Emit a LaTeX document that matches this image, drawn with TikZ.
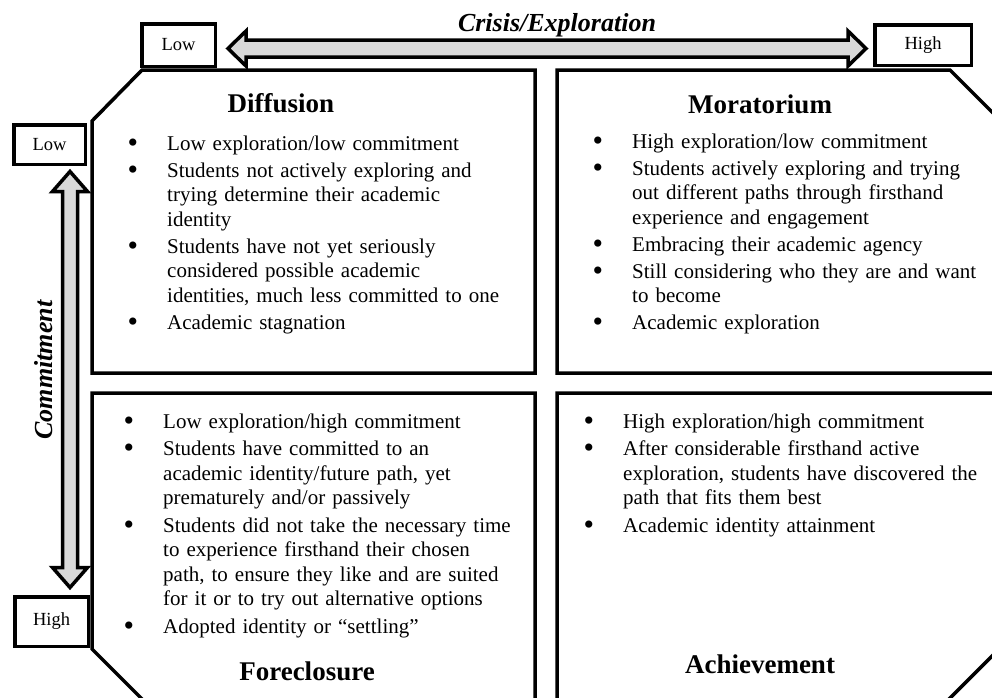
\documentclass[tikz,border=0pt]{standalone}
\usepackage{fontspec}
\setmainfont{Liberation Serif}
\usetikzlibrary{calc}
\definecolor{shaftgray}{RGB}{217,217,217}
\newcommand\bul{\leavevmode\llap{\smash{\raisebox{-2pt}{\fontsize{30}{30}\selectfont\textbullet}}\hspace{29pt}}}

\begin{document}
\begin{tikzpicture}[x=1pt,y=-1pt,line join=miter,
  quad/.style={draw,line width=3.5pt},
  tag/.style={draw,fill=white,line width=3.5pt,inner sep=0pt,font=\fontsize{18.5}{20}\selectfont},
  fat/.style={draw,fill=shaftgray,line width=3.5pt},
  title/.style={anchor=base,font=\fontsize{27}{30}\selectfont\bfseries},
  axis/.style={anchor=base,font=\fontsize{26}{28}\selectfont\bfseries\itshape},
  points/.style={anchor=base west,text width=400pt,align=left,inner sep=0pt,font=\fontsize{21}{24.5}\selectfont}]

\useasboundingbox (0,0) rectangle (992,697);
\clip (0,0) rectangle (992,697);

% the four quadrants, outer corners cut off
\draw[quad] (142,70) -- (535,70) -- (535,373) -- (92,373) -- (92,121) -- cycle;
\draw[quad] (557,70) -- (950,70) -- (1000,120) -- (1000,373) -- (557,373) -- cycle;
\draw[quad] (92,393) -- (535,393) -- (535,700) -- (143,700) -- (92,649) -- cycle;
\draw[quad] (557,393) -- (1000,393) -- (1000,648) -- (948,700) -- (557,700) -- cycle;

% end labels of both axes
\node[tag,minimum width=73.5pt,minimum height=42.5pt] (xlow) at (178.5,45) {Low};
\node[tag,minimum width=96.5pt,minimum height=40.5pt] (xhigh) at (923,45) {High};
\node[tag,minimum width=71.5pt,minimum height=39.5pt] (ylow) at (49.5,144.5) {Low};
\node[tag,minimum width=73.5pt,minimum height=49.5pt] (yhigh) at (51.5,621.5) {High};

% fat double arrows
\coordinate (xl) at (228,48.5);
\coordinate (xr) at (866,48.5);
\draw[fat] (xl) -- ++(18,-17.5) -- ++(0,9) -- ($(xr)+(-18,-8.5)$) -- ++(0,-9) -- (xr)
  -- ++(-18,17.5) -- ++(0,-9) -- ($(xl)+(18,8.5)$) -- ++(0,9) -- cycle;

\coordinate (yt) at (70,171.5);
\coordinate (yb) at (70,587.5);
\draw[fat] (yt) -- ++(17.5,20) -- ++(-10,0) -- ($(yb)+(7.5,-20)$) -- ++(10,0) -- (yb)
  -- ++(-17.5,-20) -- ++(10,0) -- ($(yt)+(-7.5,20)$) -- ++(-10,0) -- cycle;

\node[axis] (crisis) at (557,31.5) {Crisis/Exploration};
\node[axis,rotate=90] (commit) at (52,370) {Commitment};

% titles
\node[title] (diffusion) at (281,112) {Diffusion};
\node[title] (moratorium) at (760,113) {Moratorium};
\node[title] (foreclosure) at (307,680) {Foreclosure};
\node[title] (achievement) at (760,673) {Achievement};

% bullet lists
\node[points] (difftext) at (167,150) {\bul Low exploration/low commitment\\[2.5pt]
\bul Students not actively exploring and\\
trying determine their academic\\
identity\\[2.5pt]
\bul Students have not yet seriously\\
considered possible academic\\
identities, much less committed to one\\[2.5pt]
\bul Academic stagnation};

\node[points] (moratext) at (632,148) {\bul High exploration/low commitment\\[2.5pt]
\bul Students actively exploring and trying\\
out different paths through firsthand\\
experience and engagement\\[2.5pt]
\bul Embracing their academic agency\\[2.5pt]
\bul Still considering who they are and want\\
to become\\[2.5pt]
\bul Academic exploration};

\node[points] (foretext) at (163,428) {\bul Low exploration/high commitment\\[3pt]
\bul Students have committed to an\\
academic identity/future path, yet\\
prematurely and/or passively\\[3pt]
\bul Students did not take the necessary time\\
to experience firsthand their chosen\\
path, to ensure they like and are suited\\
for it or to try out alternative options\\[3pt]
\bul Adopted identity or “settling”};

\node[points] (achtext) at (623,428) {\bul High exploration/high commitment\\[3pt]
\bul After considerable firsthand active\\
exploration, students have discovered the\\
path that fits them best\\[3pt]
\bul Academic identity attainment};

\end{tikzpicture}
\end{document}
